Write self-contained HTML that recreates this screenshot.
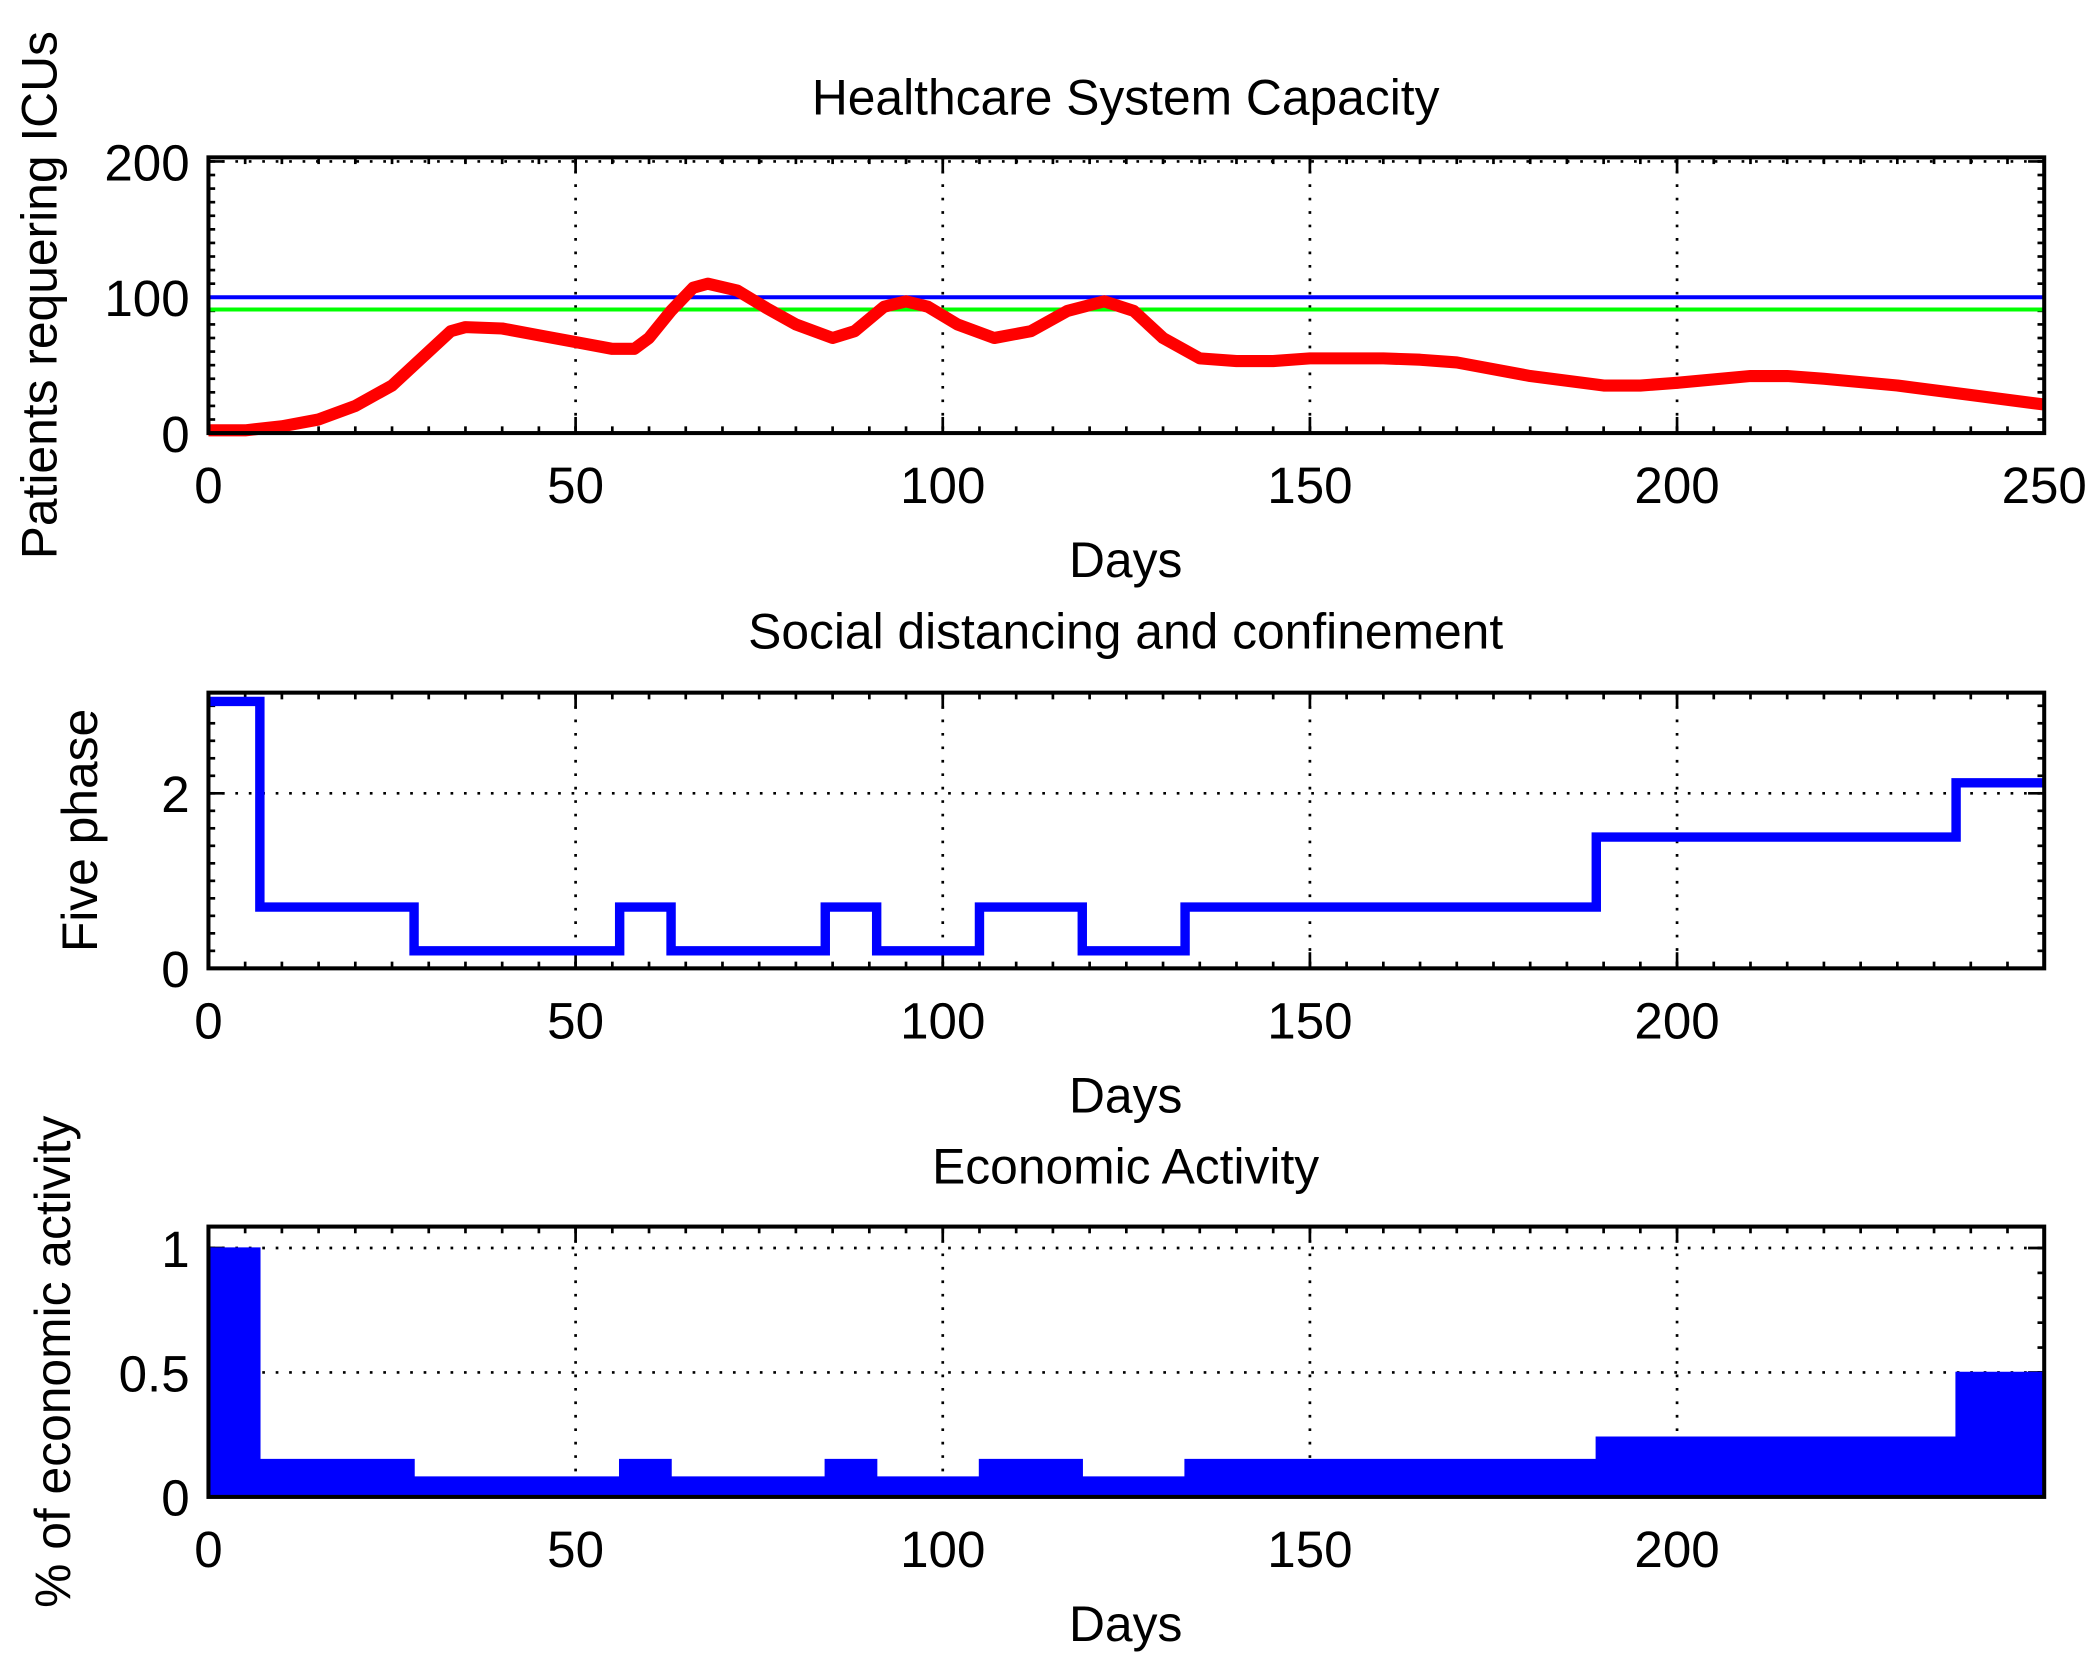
<!DOCTYPE html>
<html><head><meta charset="utf-8"><style>
html,body{margin:0;padding:0;background:#fff}
svg{display:block}
text{font-family:"Liberation Sans",sans-serif;fill:#000}
</style></head><body>
<svg id="fig" width="2098" height="1661" viewBox="0 0 1560 1235" preserveAspectRatio="none" xmlns="http://www.w3.org/2000/svg"></svg>
<script>
const xTicks=[0,50,100,150,200,250];
const icuDays=[0,5,10,15,20,25,30,33,35,40,45,50,55,58,60,63,66,68,72,76,80,85,88,92,95,98,102,107,112,117,122,126,130,135,140,145,150,160,165,170,180,190,195,200,210,215,220,230,240,250];
const icuVals=[2,2,5,10,20,35,60,75,78,77,72,67,62,62,70,90,107,110,105,92,80,70,75,93,97,93,80,70,75,90,97,90,70,55,53,53,55,55,54,52,42,35,35,37,42,42,40,35,28,21];
const capacityMax=[100];
const capacityAlert=[91];
const phaseStarts=[0,7,28,56,63,84,91,105,119,133,189,238];
const phaseVals=[3.05,0.7,0.2,0.7,0.2,0.7,0.2,0.7,0.2,0.7,1.5,2.12];
const econVals=[1.0,0.15,0.08,0.15,0.08,0.15,0.08,0.15,0.08,0.15,0.24,0.5];
const xEnd=250;

const svg=document.getElementById('fig');
const NS='http://www.w3.org/2000/svg';
function mk(tag,attrs,parent){const e=document.createElementNS(NS,tag);for(const k in attrs)e.setAttribute(k,attrs[k]);(parent||svg).appendChild(e);return e;}
function txt(s,x,y,size,extra,parent){const t=mk('text',Object.assign({x:x,y:y,'font-size':size,'text-anchor':'middle'},extra||{}),parent);t.textContent=s;return t;}

const L=155,R=1520;
function makeAxes(name,top,bot,ymax,yTicks,yLabels,xTickList,title,titleY,ylabel,ylabelX,yMinorStep){
  const g=mk('g',{});
  
  
  const sx=v=>L+(R-L)*v/xEnd, sy=v=>bot-(bot-top)*v/ymax;
  xTickList.forEach(v=>{if(v>0&&v<xEnd){const l=mk('line',{x1:sx(v),x2:sx(v),y1:top,y2:bot,stroke:'#000','stroke-width':2,'stroke-dasharray':'2 8'},g);}});
  yTicks.forEach(v=>{if(v>0){const l=mk('line',{x1:L,x2:R,y1:sy(v),y2:sy(v),stroke:'#000','stroke-width':2,'stroke-dasharray':'2 8'},g);}});
  for(let v=0;v<=xEnd;v+=5){mk('line',{x1:sx(v),x2:sx(v),y1:top,y2:top+5,stroke:'#000','stroke-width':2},g);mk('line',{x1:sx(v),x2:sx(v),y1:bot,y2:bot-5,stroke:'#000','stroke-width':2},g);}
  for(let v=0;v<=ymax;v+=yMinorStep){mk('line',{x1:L,x2:L+5,y1:sy(v),y2:sy(v),stroke:'#000','stroke-width':2},g);mk('line',{x1:R,x2:R-5,y1:sy(v),y2:sy(v),stroke:'#000','stroke-width':2},g);}
  xTickList.forEach(v=>{mk('line',{x1:sx(v),x2:sx(v),y1:top,y2:top+12,stroke:'#000','stroke-width':2},g);mk('line',{x1:sx(v),x2:sx(v),y1:bot,y2:bot-12,stroke:'#000','stroke-width':2},g);
    const t=txt(String(v),sx(v),bot+52,38,{},g);});
  yTicks.forEach((v,i)=>{mk('line',{x1:L,x2:L+12,y1:sy(v),y2:sy(v),stroke:'#000','stroke-width':2},g);mk('line',{x1:R,x2:R-12,y1:sy(v),y2:sy(v),stroke:'#000','stroke-width':2},g);
    const t=txt(yLabels[i],L-14,sy(v)+14,38,{'text-anchor':'end'},g);});
  const tt=txt(title,837,titleY,37,{},g);
  const xl=txt('Days',837,bot+107,37,{},g);
  const yl=txt(ylabel,ylabelX,(top+bot)/2,37,{transform:`rotate(-90 ${ylabelX} ${(top+bot)/2})`},g);
  return {g,sx,sy,frame:()=>{const f=mk('rect',{x:L,y:top,width:R-L,height:bot-top,fill:'none',stroke:'#000','stroke-width':3},g);}};
}

// Plot 1
const a1=makeAxes('icu-chart',117,322,203,[0,100,200],['0','100','200'],xTicks,'Healthcare System Capacity',85,'Patients requering ICUs',42,10);
const capLine=mk('line',{x1:a1.sx(0),x2:a1.sx(xEnd),y1:a1.sy(capacityMax[0]),y2:a1.sy(capacityMax[0]),stroke:'#0000ff','stroke-width':3},a1.g);


const alertLine=mk('line',{x1:a1.sx(0),x2:a1.sx(xEnd),y1:a1.sy(capacityAlert[0]),y2:a1.sy(capacityAlert[0]),stroke:'#00ff00','stroke-width':3},a1.g);


const icuPath=mk('polyline',{points:icuDays.map((d,i)=>a1.sx(d)+','+a1.sy(icuVals[i])).join(' '),fill:'none',stroke:'#ff0000','stroke-width':9,'stroke-linejoin':'round'},a1.g);


a1.frame();

// Plot 2
const a2=makeAxes('phase-chart',515,720,3.15,[0,2],['0','2'],xTicks.slice(0,5),'Social distancing and confinement',482,'Five phase',72,0.2);
let pts=[];
phaseStarts.forEach((s,i)=>{const e=i+1<phaseStarts.length?phaseStarts[i+1]:xEnd;pts.push(a2.sx(s)+','+a2.sy(phaseVals[i]));pts.push(a2.sx(e)+','+a2.sy(phaseVals[i]));});
const ph=mk('polyline',{points:pts.join(' '),fill:'none',stroke:'#0000ff','stroke-width':7},a2.g);


a2.frame();

// Plot 3
const a3=makeAxes('economic-chart',912,1113,1.086,[0,0.5,1],['0','0.5','1'],xTicks.slice(0,5),'Economic Activity',880,'% of economic activity',52,0.1);
let ep=[a3.sx(0)+','+a3.sy(0)];
phaseStarts.forEach((s,i)=>{const e=i+1<phaseStarts.length?phaseStarts[i+1]:xEnd;ep.push(a3.sx(s)+','+a3.sy(econVals[i]));ep.push(a3.sx(e)+','+a3.sy(econVals[i]));});
ep.push(a3.sx(xEnd)+','+a3.sy(0));
const ea=mk('polygon',{points:ep.join(' '),fill:'#0000ff',stroke:'#0000ff','stroke-width':1},a3.g);


a3.frame();
</script>
</body></html>
